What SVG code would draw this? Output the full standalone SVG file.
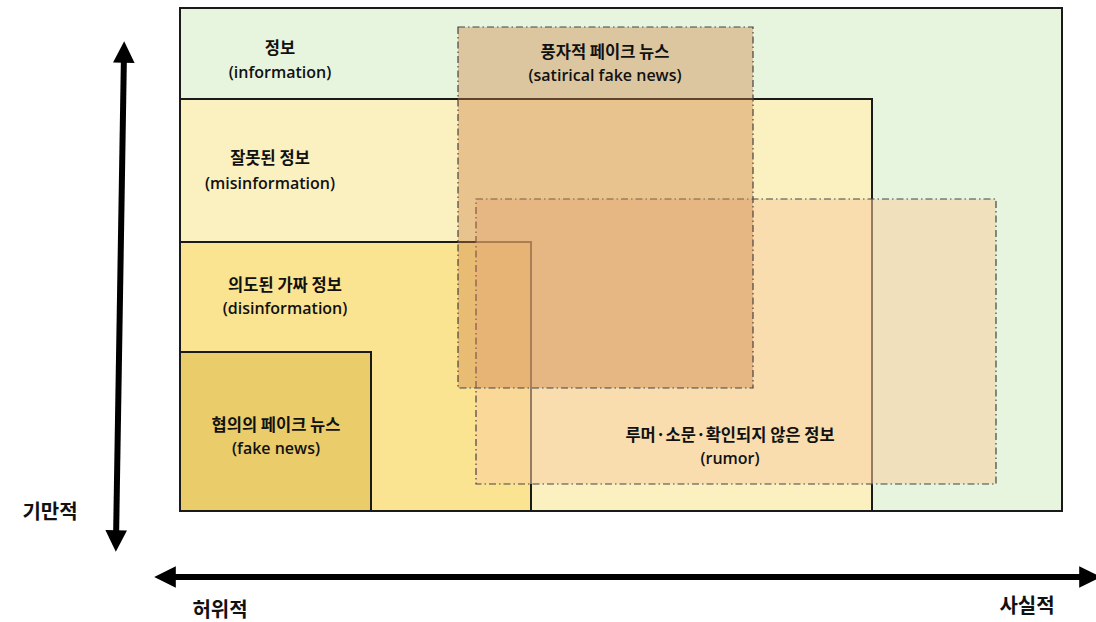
<svg xmlns="http://www.w3.org/2000/svg" width="1096" height="622" viewBox="0 0 1096 622">
<style>
.box{stroke:#1a1a1a;stroke-width:2}
.ov{stroke:#444;stroke-width:1.2;stroke-dasharray:7,3,1.5,3}
.ko{font-family:"Noto Sans CJK KR",sans-serif;font-weight:700;font-size:16.5px;fill:#111;text-anchor:middle}
.en{font-family:"Open Sans","Noto Sans",sans-serif;font-weight:600;font-size:16px;fill:#111;text-anchor:middle}
.ax{font-family:"Noto Sans CJK KR",sans-serif;font-weight:700;font-size:20px;fill:#111;text-anchor:middle}
.axis{stroke:#000;stroke-width:6;fill:none}
</style>
<defs>
<marker id="ah" viewBox="0 0 10 10" refX="5" refY="5" markerWidth="3.6" markerHeight="3.6" orient="auto-start-reverse" markerUnits="strokeWidth">
<path d="M0,0 L10,5 L0,10 z" fill="#000"/>
</marker>
</defs>
<rect width="1096" height="622" fill="#fff"/>
<g id="information"><rect class="box" x="180" y="8" width="882" height="503" fill="#e7f5de"/></g>
<g id="misinformation"><rect class="box" x="180" y="99" width="692" height="412" fill="#fbf0c0"/></g>
<g id="disinformation"><rect class="box" x="180" y="242" width="351" height="269" fill="#fbe491"/></g>
<g id="fake-news"><rect class="box" x="180" y="352" width="191" height="159" fill="#ebcc6a"/></g>
<g id="rumor"><rect class="ov" x="476" y="199" width="520" height="285" fill="rgb(248,206,158)" fill-opacity="0.55"/></g>
<g id="satirical"><rect class="ov" x="458" y="27" width="295" height="361" fill="rgb(204,128,67)" fill-opacity="0.4"/></g>
<g id="labels">
<text class="ko" x="280" y="54">정보</text>
<text class="en" x="280" y="78">(information)</text>
<text class="ko" x="270" y="164">잘못된 정보</text>
<text class="en" x="270" y="189">(misinformation)</text>
<text class="ko" x="285" y="291">의도된 가짜 정보</text>
<text class="en" x="285" y="314">(disinformation)</text>
<text class="ko" x="276" y="431">협의의 페이크 뉴스</text>
<text class="en" x="276" y="454">(fake news)</text>
<text class="ko" x="605" y="58">풍자적 페이크 뉴스</text>
<text class="en" x="605" y="81">(satirical fake news)</text>
<text class="ko" x="730" y="441">루머·소문·확인되지 않은 정보</text>
<text class="en" x="730" y="464">(rumor)</text>
</g>
<g id="connectors">
<line class="axis" x1="124" y1="52" x2="116" y2="541" marker-start="url(#ah)" marker-end="url(#ah)"/>
<line class="axis" x1="165" y1="577" x2="1090" y2="577" marker-start="url(#ah)" marker-end="url(#ah)"/>
</g>
<g id="axis-labels">
<text class="ax" x="50" y="519">기만적</text>
<text class="ax" x="220" y="617">허위적</text>
<text class="ax" x="1027" y="613">사실적</text>
</g>
</svg>
